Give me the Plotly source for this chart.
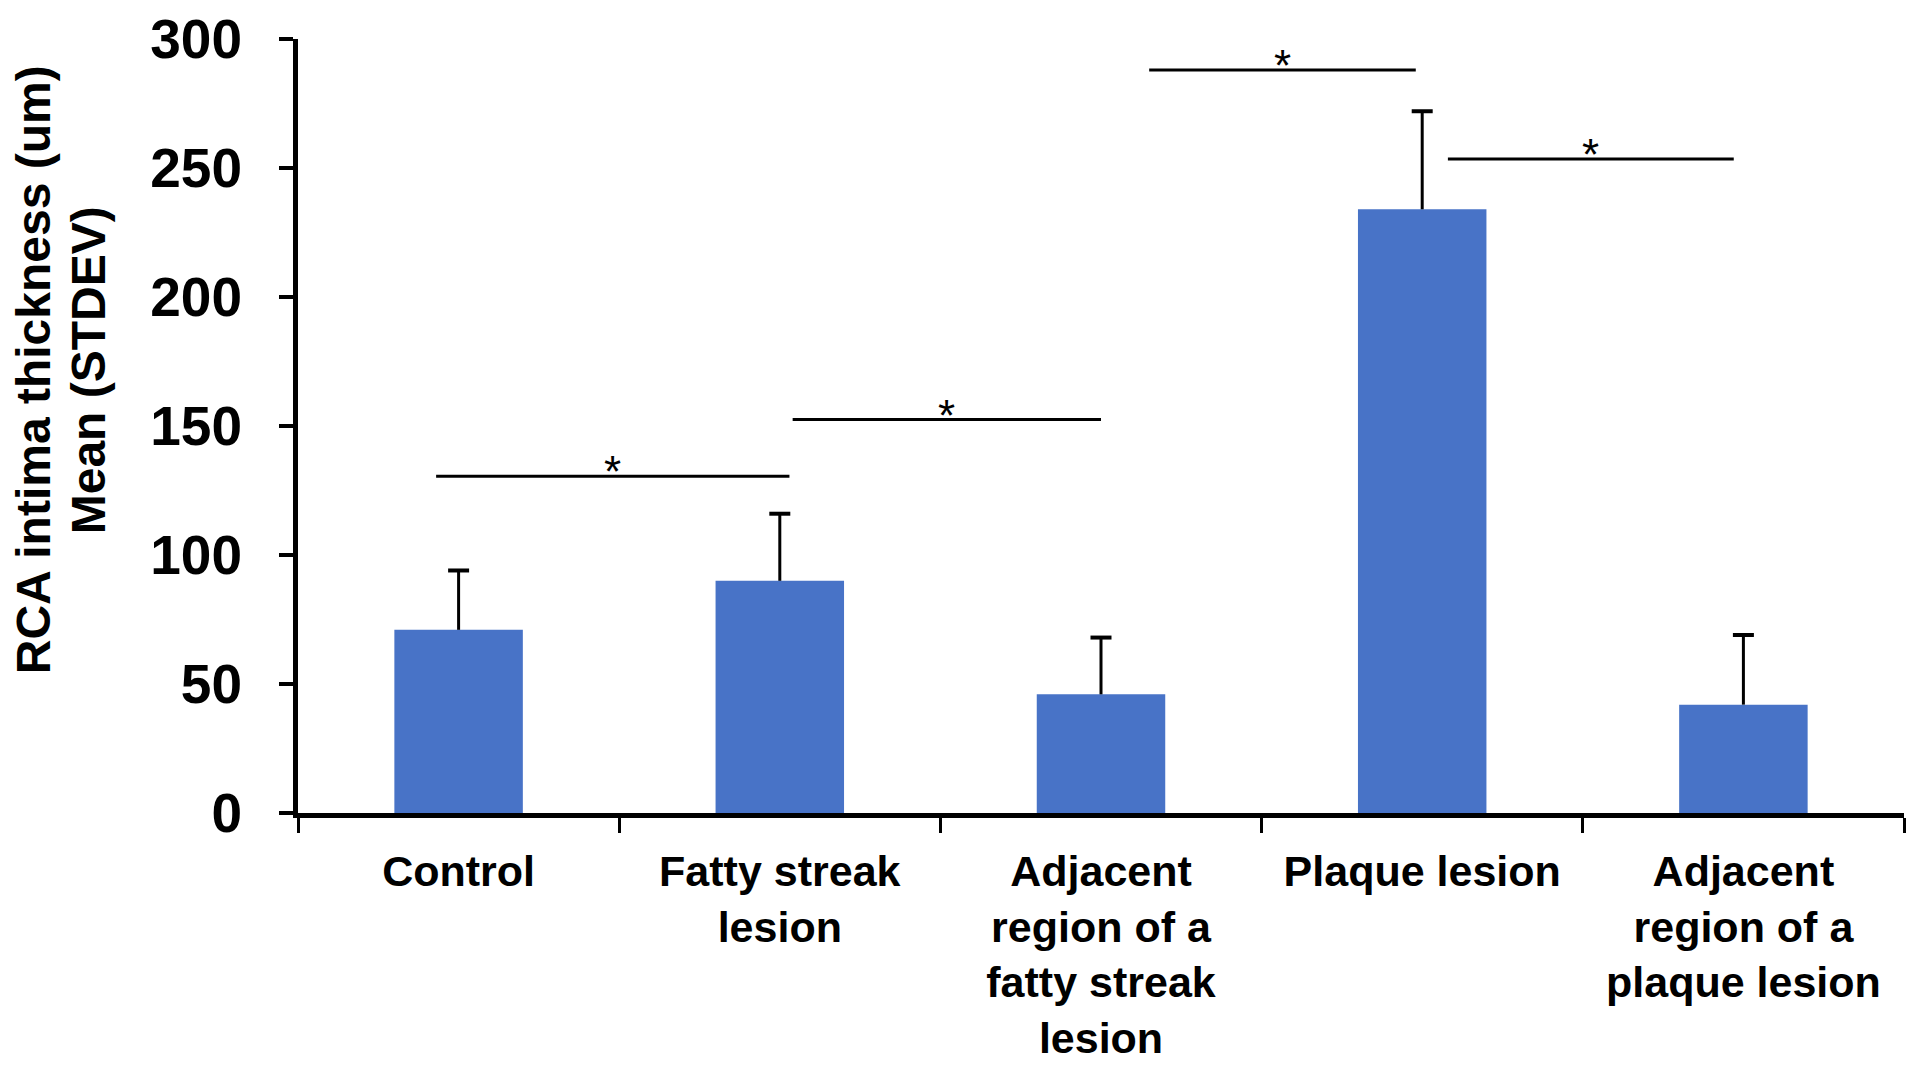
import plotly.graph_objects as go

categories = ["Control", "Fatty streak<br>lesion", "Adjacent<br>region of a<br>fatty streak<br>lesion",
              "Plaque lesion", "Adjacent<br>region of a<br>plaque lesion"]
means = [71, 90, 46, 234, 42]
stdev = [23, 26, 22, 38, 27]
y_ticks = [0, 50, 100, 150, 200, 250, 300]
y_title_lines = ["RCA intima thickness (um)", "Mean (STDEV)"]

# significance comparisons: (start index, end index, level)
sig_start = [-0.07, 1.04, 2.15, 3.08]
sig_end = [1.03, 2.0, 2.98, 3.97]
sig_level = [130.5, 152.5, 288, 253.5]
sig_text = ["*", "*", "*", "*"]

FONT = "Liberation Sans, Arial, sans-serif"
tops = [m + s for m, s in zip(means, stdev)]

fig = go.Figure()
fig.add_trace(go.Bar(
    x=categories, y=means,
    marker=dict(color="#4873C7", line=dict(width=0)),
    width=0.4, hoverinfo="skip",
))
# upward error bars (stem) and caps
fig.add_trace(go.Scatter(
    x=categories, y=means, mode="markers", marker=dict(size=1, opacity=0),
    error_y=dict(type="data", array=stdev, arrayminus=[0] * len(stdev), symmetric=False,
                 color="black", thickness=3, width=0),
    hoverinfo="skip",
))
fig.add_trace(go.Scatter(
    x=categories, y=tops, mode="markers",
    marker=dict(symbol="line-ew", size=15, line=dict(color="black", width=4)),
    hoverinfo="skip",
))

for x0, x1, lvl, t in zip(sig_start, sig_end, sig_level, sig_text):
    fig.add_shape(type="line", xref="x", yref="y", x0=x0, x1=x1, y0=lvl, y1=lvl,
                  line=dict(color="black", width=3))
    fig.add_annotation(x=(x0 + x1) / 2, y=lvl, xref="x", yref="y", text=t, showarrow=False,
                       yanchor="bottom", yshift=-22, font=dict(size=44, color="black", family=FONT))

for i, line in enumerate(y_title_lines):
    fig.add_annotation(xref="paper", yref="paper", x=0, y=0.572, xanchor="center", yanchor="middle",
                       xshift=-265 + 55 * i, text=line, textangle=-90, showarrow=False,
                       font=dict(size=48, color="black", family=FONT, weight="bold"))

fig.update_layout(
    width=1920, height=1068,
    margin=dict(l=290, r=24, t=31, b=263),
    paper_bgcolor="white", plot_bgcolor="white",
    showlegend=False,
    font=dict(family=FONT, color="black"),
)
fig.update_xaxes(
    type="category", showgrid=False, showline=True, linecolor="black", linewidth=5,
    ticks="outside", tickson="boundaries", ticklen=15, tickwidth=3, tickcolor="black",
    tickfont=dict(size=43, family=FONT, weight="bold"), ticklabelstandoff=16,
    range=[-0.5, 4.5], zeroline=False, automargin=False,
)
fig.update_yaxes(
    range=[0, 300], tickvals=y_ticks, showgrid=False, showline=True, linecolor="black", linewidth=5,
    ticks="outside", ticklen=14, tickwidth=4, tickcolor="black", zeroline=False, automargin=False,
    tickfont=dict(size=55, family=FONT, weight="bold"), ticklabelstandoff=26,
)

fig.write_html("out.html")
